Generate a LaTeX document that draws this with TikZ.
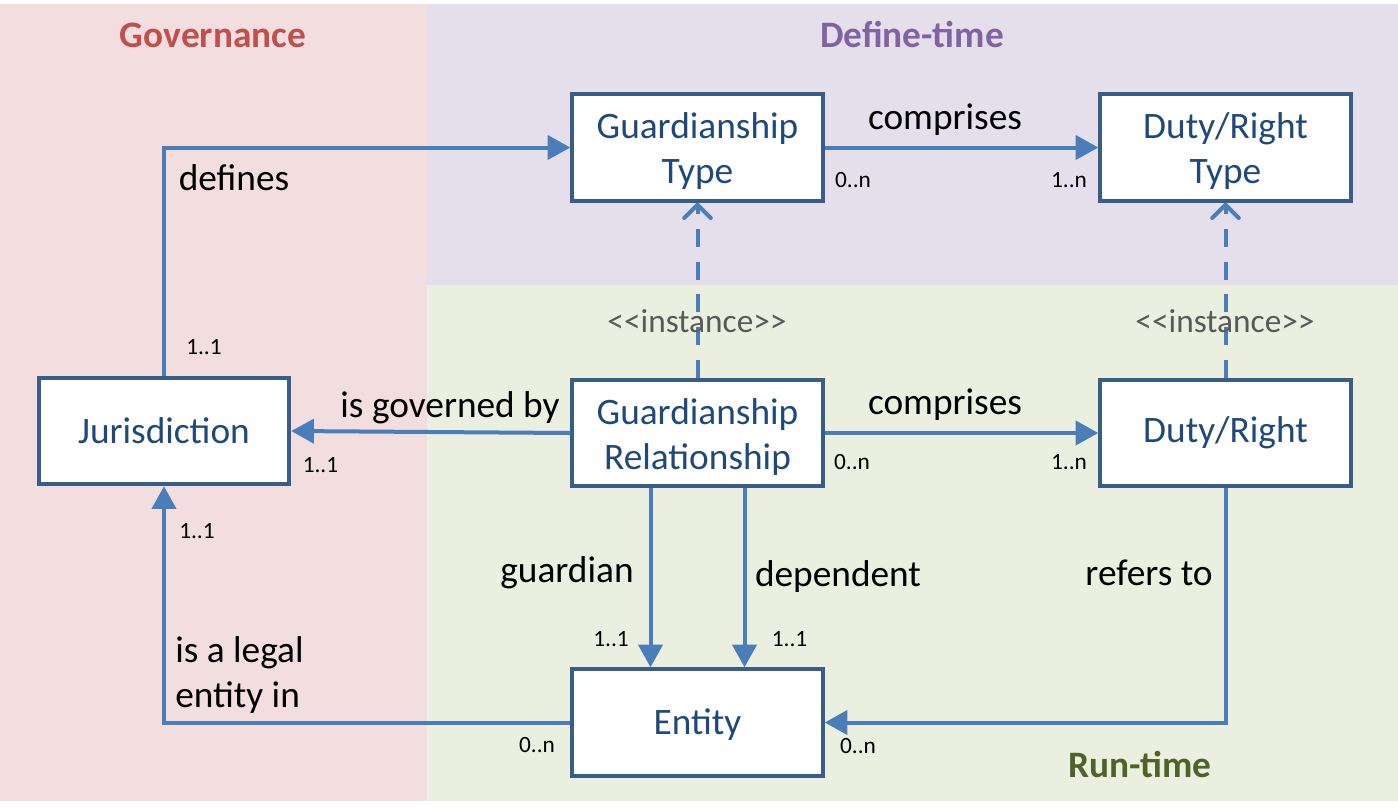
\documentclass[tikz,border=0pt]{standalone}
\usepackage{fontspec}
\setmainfont{Carlito}
\usetikzlibrary{arrows.meta}
\definecolor{govbg}{HTML}{F2DEDF}
\definecolor{defbg}{HTML}{E5DFEC}
\definecolor{runbg}{HTML}{EBEFDF}
\definecolor{govtx}{HTML}{C0504D}
\definecolor{deftx}{HTML}{8064A2}
\definecolor{runtx}{HTML}{4F6228}
\definecolor{boxborder}{HTML}{385D8A}
\definecolor{boxtext}{HTML}{1F497D}
\definecolor{edgecol}{HTML}{4A7EBB}
\definecolor{insttx}{HTML}{595959}
\newcommand{\twolines}[2]{\raisebox{-3.5pt}[\height][\depth]{\begin{tabular}{@{}c@{}}#1\\#2\end{tabular}}}
\begin{document}
\begin{tikzpicture}[x=0.75pt,y=-0.75pt,
  box/.style={draw=boxborder, line width=2.8pt, fill=white, minimum width=188pt, minimum height=80pt, inner sep=0pt, text=boxtext, font=\fontsize{28}{33.75}\selectfont, align=center},
  conn/.style={draw=edgecol, line width=3pt, -{Triangle[length=17pt,width=18pt]}},
  inst/.style={draw=edgecol, line width=3pt, dash pattern=on 13.5pt off 11pt, -{Straight Barb[length=10pt,width=20pt,line cap=round,line join=round]}},
  lab/.style={font=\fontsize{28}{33.75}\selectfont, text=black, inner sep=0pt},
  mult/.style={font=\fontsize{17.5}{21}\selectfont, text=black, inner sep=0pt},
  instlab/.style={font=\fontsize{25}{30}\selectfont, text=insttx, inner sep=0pt},
  ttl/.style={font=\fontsize{28}{34}\selectfont\bfseries, inner sep=0pt}]
\useasboundingbox (0,0) rectangle (1398,808);
\fill[white] (0,0) rectangle (1398,808);
\fill[govbg] (0,4) rectangle (427,801);
\fill[defbg] (427,4) rectangle (1398,285);
\fill[runbg] (427,285) rectangle (1398,801);

\node[ttl, text=govtx] (tgov) at (213,35) {Governance};
\node[ttl, text=deftx] (tdef) at (912,35) {Define-time};
\node[ttl, text=runtx] (trun) at (1140,764) {Run-time};

\node[box] (gt) at (697.5,147.5) {\twolines{Guardianship}{Type}};
\node[box] (drt) at (1225.5,147.5) {\twolines{Duty/Right}{Type}};
\node[box] (jur) at (164,431) {Jurisdiction};
\node[box] (gr) at (697.5,433) {\twolines{Guardianship}{Relationship}};
\node[box] (dr) at (1225.5,433) {Duty/Right};
\node[box] (ent) at (697.5,722.5) {\raisebox{-1.5pt}[\height][\depth]{Entity}};

\draw[conn] (jur.north) |- (gt.west);
\draw[conn] (gt.east) -- (drt.west);
\draw[inst] (gr.north) -- (gt.south);
\draw[inst] (dr.north) -- (drt.south);
\draw[conn] (gr.west) -- (jur.east);
\draw[conn] (gr.east) -- (dr.west);
\draw[conn] ([xshift=-35.25pt]gr.south) -- ([xshift=-35.25pt]ent.north);
\draw[conn] ([xshift=35.25pt]gr.south) -- ([xshift=35.25pt]ent.north);
\draw[conn] (dr.south) |- (ent.east);
\draw[conn] (ent.west) -| (jur.south);

\node[lab] (ldef) at (234,178) {defines};
\node[lab] (lcomp1) at (945,120) {comprises};
\node[mult] (m1) at (853,180) {0..n};
\node[mult] (m2) at (1069,180) {1..n};
\node[instlab] (li1) at (697,321) {<\kern0pt<instance>\kern0pt>};
\node[instlab] (li2) at (1225,321) {<\kern0pt<instance>\kern0pt>};
\node[mult] (m3) at (204,347) {1..1};
\node[lab] (lgov) at (450,408) {is governed by};
\node[mult] (m4) at (320.5,465) {1..1};
\node[lab] (lcomp2) at (945,405) {comprises};
\node[mult] (m5) at (852,462) {0..n};
\node[mult] (m6) at (1069,462) {1..n};
\node[mult] (m7) at (197,531) {1..1};
\node[lab] (lguard) at (567,573) {guardian};
\node[lab] (ldep) at (838,577) {dependent};
\node[lab] (lref) at (1149,573) {refers to};
\node[mult] (m8) at (611,639) {1..1};
\node[mult] (m9) at (789.5,639) {1..1};
\node[lab, anchor=west, align=left] (llegal) at (175,675.5) {is a legal\\entity in};
\node[mult] (m10) at (537,745) {0..n};
\node[mult] (m11) at (858,746) {0..n};
\end{tikzpicture}
\end{document}
